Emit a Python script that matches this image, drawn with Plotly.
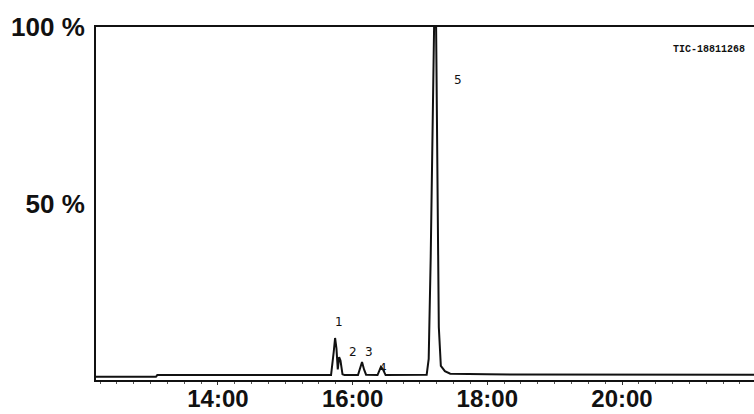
import plotly.graph_objects as go

# Chromatogram trace (retention time in minutes, relative intensity %)
time_min = [12.19, 13.08, 13.10, 15.68, 15.72, 15.74, 15.76, 15.78, 15.80, 15.82, 15.85, 15.88,
            16.08, 16.12, 16.14, 16.17, 16.20, 16.37, 16.42, 16.45, 16.49,
            17.10, 17.13, 17.16, 17.19, 17.21, 17.24, 17.25, 17.27, 17.28, 17.31, 17.37, 17.45,
            18.00, 21.96]
intensity = [0.9, 0.9, 1.4, 1.4, 8.0, 11.9, 9.0, 3.0, 6.5, 5.5, 1.6, 1.4,
             1.4, 4.0, 5.1, 3.0, 1.5, 1.4, 3.7, 3.0, 1.4,
             1.5, 6.0, 35.0, 80.0, 100.0, 100.0, 80.0, 40.0, 15.0, 4.0, 2.5, 1.8,
             1.6, 1.5]

# Peak labels
peak_ids = ["1", "2", "3", "4", "5"]
peak_label_t = [15.80, 16.01, 16.24, 16.45, 17.57]
peak_label_y = [16.4, 7.9, 7.9, 3.4, 85.0]

x_tickvals = [14, 16, 18, 20]
x_ticktext = ["14:00", "16:00", "18:00", "20:00"]
y_tickvals = [50, 100]
y_ticktext = ["50 %", "100 %"]
trace_name = "TIC-18811268"

fig = go.Figure()
fig.add_trace(go.Scatter(x=time_min, y=intensity, mode="lines",
                         line=dict(color="#111111", width=2), showlegend=False))

for pid, tx, ty in zip(peak_ids, peak_label_t, peak_label_y):
    fig.add_annotation(x=tx, y=ty, text=pid, showarrow=False,
                       font=dict(family="DejaVu Sans", size=12, color="#111111"))

fig.add_annotation(x=0.989, y=0.957, xref="paper", yref="paper", xanchor="right",
                   text=trace_name, showarrow=False,
                   font=dict(family="Liberation Mono", size=10, color="#111111", weight="bold"))

fig.update_layout(
    width=754, height=414,
    margin=dict(l=96, r=0, t=27, b=34),
    paper_bgcolor="white", plot_bgcolor="white",
    xaxis=dict(range=[12.19, 21.96], tickvals=x_tickvals, ticktext=x_ticktext,
               automargin=False,
               showgrid=False, zeroline=False, showline=True, linecolor="#111111",
               linewidth=2, mirror=True, ticks="outside", ticklen=3, tickcolor="#333333",
               ticklabelstandoff=-7,
               minor=dict(ticks="outside", ticklen=2, dtick=0.25, tickcolor="#555555"),
               tickfont=dict(family="Liberation Sans", size=24, color="#111111", weight="bold")),
    yaxis=dict(range=[0, 100], tickvals=y_tickvals, ticktext=y_ticktext,
               automargin=False,
               showgrid=False, zeroline=False, showline=True, linecolor="#111111",
               linewidth=2, ticks="", ticklabelstandoff=4,
               tickfont=dict(family="Liberation Sans", size=26, color="#111111", weight="bold")),
)

fig.write_html("out.html", config={"displayModeBar": False},
               post_script="document.body.style.margin='0';document.body.style.overflow='hidden';")
